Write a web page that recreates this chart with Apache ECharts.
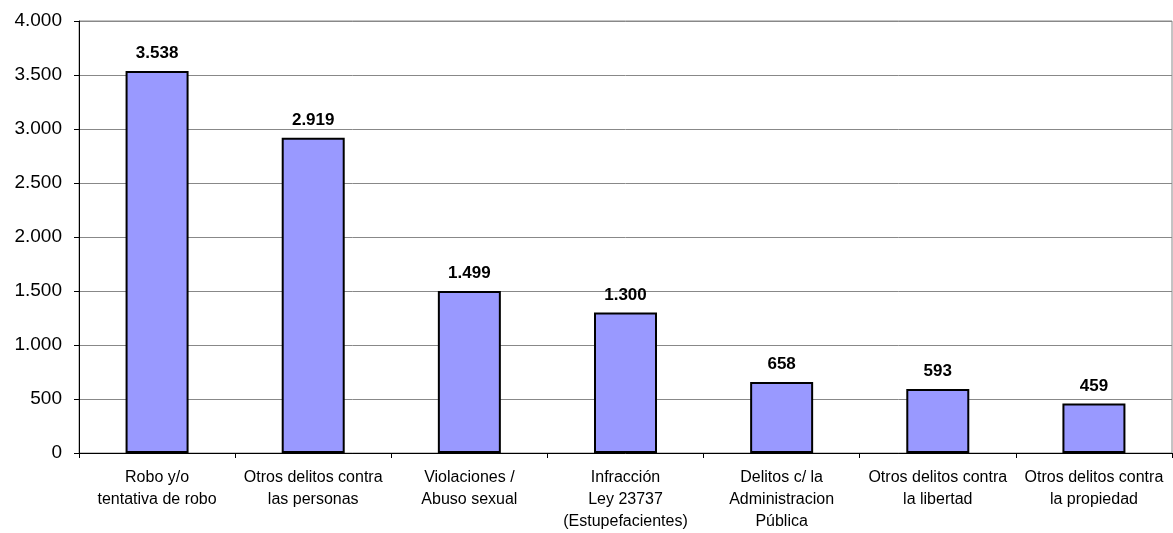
<!DOCTYPE html>
<html>
<head>
<meta charset="utf-8">
<script src="https://cdn.jsdelivr.net/npm/echarts@6/dist/echarts.min.js"></script>
<style>
    html, body { margin: 0; padding: 0; background: #fff; }
    #chart { width: 1173px; height: 533px; }
</style>
</head>
<body>
<div id="chart"></div>
<script>
var categories = [
    "Robo y/o\ntentativa de robo",
    "Otros delitos contra\nlas personas",
    "Violaciones /\nAbuso sexual",
    "Infracción\nLey 23737\n(Estupefacientes)",
    "Delitos c/ la\nAdministracion\nPública",
    "Otros delitos contra\nla libertad",
    "Otros delitos contra\nla propiedad"
];
var values = [3538, 2919, 1499, 1300, 658, 593, 459];

// 3538 -> "3.538"
function fmt(v) {
    return String(v).replace(/\B(?=(\d{3})+(?!\d))/g, ".");
}

var chart = echarts.init(document.getElementById("chart"));
var option = {
    animation: false,
    grid: {
        left: 79,
        right: 1,
        top: 21,
        bottom: 80,
        show: true,
        borderColor: "#888",
        borderWidth: 1
    },
    xAxis: {
        type: "category",
        data: categories,
        axisLine: { lineStyle: { color: "#000", width: 1 } },
        axisTick: { show: true, length: 5, lineStyle: { color: "#000" } },
        axisLabel: {
            interval: 0,
            margin: 14,
            color: "#000",
            fontSize: 16,
            lineHeight: 22,
            fontFamily: "Liberation Sans Narrow, Arial Narrow, Liberation Sans, Arial"
        }
    },
    yAxis: {
        type: "value",
        min: 0,
        max: 4000,
        interval: 500,
        axisLine: { show: true, lineStyle: { color: "#000", width: 1 } },
        axisTick: { show: true, length: 5, lineStyle: { color: "#000" } },
        splitLine: { lineStyle: { color: "#888", width: 1 } },
        axisLabel: {
            margin: 17,
            color: "#000",
            fontSize: 19,
            fontFamily: "Liberation Sans, Arial",
            formatter: fmt
        }
    },
    series: [
        {
            type: "bar",
            data: values,
            barWidth: 63,
            itemStyle: {
                color: "#9999ff",
                borderColor: "#000",
                borderWidth: 2
            },
            label: {
                show: true,
                position: "top",
                distance: 9,
                color: "#000",
                fontSize: 17,
                fontWeight: "bold",
                fontFamily: "Liberation Sans, Arial",
                formatter: function (p) { return fmt(p.value); }
            }
        }
    ]
};
chart.setOption(option);
</script>
</body>
</html>
